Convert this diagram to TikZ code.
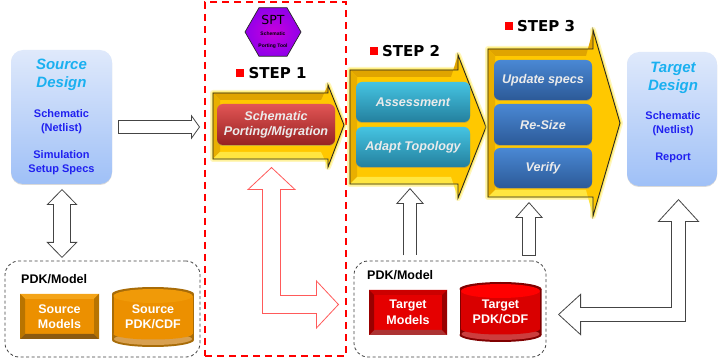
\documentclass[tikz,border=0pt]{standalone}
\usepackage{fontspec}
\setmainfont{Liberation Sans}
\newfontfamily\stepfont{DejaVu Sans}
\usetikzlibrary{arrows.meta,shapes.geometric,shadows}

\definecolor{gold}{HTML}{FFC800}
\definecolor{golddark}{HTML}{E0A400}
\definecolor{goldlight}{HTML}{FFE640}
\definecolor{titleblue}{HTML}{1AB0F0}
\definecolor{bodyblue}{HTML}{2020F0}
\definecolor{softred}{HTML}{FF5A5A}
\definecolor{arrowgrey}{HTML}{444444}
\definecolor{boxtop}{HTML}{DFE9FB}
\definecolor{boxbottom}{HTML}{9FC0F7}
\definecolor{redtop}{HTML}{E25555}
\definecolor{redmid}{HTML}{C93A3A}
\definecolor{redlow}{HTML}{962222}
\definecolor{tealtop}{HTML}{45C4E2}
\definecolor{tealmid}{HTML}{30A6C8}
\definecolor{teallow}{HTML}{24809E}
\definecolor{bluetop}{HTML}{4A88D4}
\definecolor{bluemid}{HTML}{3B76C2}
\definecolor{bluelow}{HTML}{2C5A98}
\definecolor{hexin}{HTML}{C800DC}
\definecolor{hexout}{HTML}{9200EA}
\definecolor{ochre}{HTML}{EC9000}
\definecolor{ochretop}{HTML}{F4A418}
\definecolor{ochrelow}{HTML}{8C5A10}
\definecolor{ochreside}{HTML}{B87400}
\definecolor{ochrerim}{HTML}{A86C08}
\definecolor{ochrepale}{HTML}{D8A050}
\definecolor{ochrecap}{HTML}{F09A08}

\newcommand{\pb}{path picture bounding box}
\newcommand{\titlesize}{\fontsize{15}{15}\selectfont\bfseries\itshape\color{titleblue}}

\newcommand{\steparrow}[8]{
  \path[draw=goldlight,line width=6pt,opacity=.35,line join=round] (#1,#2) -- (#4,#2) -- (#4,#5) -- (#7,#8) -- (#4,#6) -- (#4,#3) -- (#1,#3) -- cycle;
  \path[draw=goldlight,line width=3pt,opacity=.7,line join=round] (#1,#2) -- (#4,#2) -- (#4,#5) -- (#7,#8) -- (#4,#6) -- (#4,#3) -- (#1,#3) -- cycle;
  \fill[gold] (#1,#2) -- (#4,#2) -- (#4,#5) -- (#7,#8) -- (#4,#6) -- (#4,#3) -- (#1,#3) -- cycle;
  \fill[golddark] (#1,#2) -- (#4,#2) -- (#4,#5) -- ([shift={(-7pt,-7pt)}]#4,#2) -- ([shift={(7pt,-7pt)}]#1,#2) -- cycle;
  \fill[golddark!70!gold] (#1,#2) -- ([shift={(7pt,-7pt)}]#1,#2) -- ([shift={(7pt,7pt)}]#1,#3) -- (#1,#3) -- cycle;
  \fill[goldlight] (#1,#3) -- (#4,#3) -- (#4,#6) -- ([shift={(-7pt,7pt)}]#4,#3) -- ([shift={(7pt,7pt)}]#1,#3) -- cycle;
  \draw[black!85,line width=.9pt,line join=miter] (#1,#2) -- (#4,#2) -- (#4,#5) -- (#7,#8) -- (#4,#6) -- (#4,#3) -- (#1,#3) -- cycle;
}

\newcommand{\blockarrow}[5]{
  \draw[#1,line width=#2+1.6pt,>={Triangle[open,fill=white,width=#3,length=#4,line width=.8pt]},->] #5;
  \draw[white,line width=#2,shorten <=.8pt,shorten >=#4-1pt] #5;
}
\newcommand{\blockarrows}[5]{
  \draw[#1,line width=#2+1.6pt,>={Triangle[open,fill=white,width=#3,length=#4,line width=.8pt]},<->] #5;
  \draw[white,line width=#2,shorten <=#4-1pt,shorten >=#4-1pt] #5;
}

\tikzset{
  designbox/.style={rounded corners=12pt,top color=boxtop,bottom color=boxbottom,minimum height=134pt,
    drop shadow={shadow xshift=0pt,shadow yshift=-1pt,opacity=.3}},
  designtext/.style={align=center,inner sep=0pt,text=bodyblue,font=\fontsize{11}{14}\selectfont\bfseries},
  button/.style n args={3}{rounded corners=6pt,inner sep=0pt,align=center,text=white!92!black,
    font=\fontsize{12.6}{15}\selectfont\bfseries\itshape,top color=#1,middle color=#2,bottom color=#3,
    drop shadow={shadow xshift=0pt,shadow yshift=-1pt,opacity=.45}},
  steplabel/.style={inner sep=0pt,font=\fontsize{15}{15}\selectfont\stepfont\bfseries},
  stepmark/.style={fill=red,minimum size=8pt,inner sep=0pt,anchor=east,xshift=-4pt},
  pdkbox/.style={draw=black!75,dashed,dash pattern=on 3pt off 2.5pt,line width=.8pt,rounded corners=14pt},
  pdklabel/.style={anchor=west,inner sep=0pt,font=\fontsize{12.5}{13}\selectfont\bfseries},
  modelbox/.style n args={5}{fill=#1,inner sep=0pt,align=center,text=white,font=\fontsize{12.5}{15.5}\selectfont\bfseries,
    path picture={
      \fill[#2] (\pb.north west) -- (\pb.north east) -- ([shift={(-5pt,-5pt)}]\pb.north east) -- ([shift={(5pt,-5pt)}]\pb.north west) -- cycle;
      \fill[#3] (\pb.south west) -- (\pb.south east) -- ([shift={(-5pt,5pt)}]\pb.south east) -- ([shift={(5pt,5pt)}]\pb.south west) -- cycle;
      \fill[#4] (\pb.north west) -- ([shift={(5pt,-5pt)}]\pb.north west) -- ([shift={(5pt,5pt)}]\pb.south west) -- (\pb.south west) -- cycle;
      \fill[#5] (\pb.north east) -- ([shift={(-5pt,-5pt)}]\pb.north east) -- ([shift={(-5pt,5pt)}]\pb.south east) -- (\pb.south east) -- cycle;
    }},
  dbbox/.style n args={4}{minimum width=82pt,minimum height=60pt,inner sep=0pt,
    align=center,text=white,font=\fontsize{12.5}{15.5}\selectfont\bfseries,
    path picture={
      \fill[#2] ([yshift=7pt]\pb.south) ellipse [x radius=41pt,y radius=7pt];
      \fill[#2] ([yshift=7pt]\pb.south west) rectangle ([yshift=-7pt]\pb.north east);
      \fill[#3] ([yshift=8pt]\pb.south) ellipse [x radius=39pt,y radius=6pt];
      \fill[#1] ([yshift=13pt]\pb.south) ellipse [x radius=39.5pt,y radius=5.5pt];
      \fill[#1] ([shift={(-39.5pt,13pt)}]\pb.south) rectangle ([shift={(39.5pt,-8pt)}]\pb.north);
      \fill[#2] ([yshift=-7pt]\pb.north) ellipse [x radius=41pt,y radius=7pt];
      \fill[#4] ([yshift=-9pt]\pb.north) ellipse [x radius=39.5pt,y radius=7pt];
    }}
}

\begin{document}
\begin{tikzpicture}[x=1pt,y=-1pt]
  \useasboundingbox (0,0) rectangle (718,363);

  \node[designbox,minimum width=101pt] at (61.5,117) (sourcedesign) {};
  \node[designtext] at (61.5,117) (sourcetext) {{\titlesize Source}\\[4pt]{\titlesize Design}\\[16pt]Schematic\\(Netlist)\\[13pt]Simulation\\Setup Specs};
  \node[designbox,minimum width=90pt] at (672,119) (targetdesign) {};
  \node[designtext] at (673,112) (targettext) {{\titlesize Target}\\[4pt]{\titlesize Design}\\[15pt]Schematic\\(Netlist)\\[13pt]Report};

  \node[draw=red,dashed,dash pattern=on 7pt off 5pt,line width=1.4pt,minimum width=141pt,minimum height=354pt,inner sep=0pt] at (275.5,179) (sptbox) {};
  \node[regular polygon,regular polygon sides=6,minimum size=56pt,inner sep=0pt,draw=black!85,line width=.7pt,inner color=hexin,outer color=hexout,align=center] at (273,32) (spt) {{\fontsize{12.5}{11}\selectfont\stepfont SPT}\\[-1pt]{\fontsize{5}{7}\selectfont\bfseries Schematic}\\[-.5pt]{\fontsize{5}{7}\selectfont\bfseries Porting Tool}};

  \node[steplabel] at (277.5,73) (step1) {STEP 1};
  \node[stepmark] at (step1.west) (mark1) {};
  \node[steplabel] at (411,51) (step2) {STEP 2};
  \node[stepmark] at (step2.west) (mark2) {};
  \node[steplabel] at (546,26) (step3) {STEP 3};
  \node[stepmark] at (step3.west) (mark3) {};

  \steparrow{213}{93}{159}{328}{85}{167}{344}{125}
  \steparrow{350}{70}{184}{458}{55}{198}{486}{127}
  \steparrow{488}{49}{197}{593}{30}{216}{620}{123}

  \node[button={redtop}{redmid}{redlow},minimum width=118pt,minimum height=41pt] at (276,124.5) (porting) {Schematic\\Porting/Migration};
  \node[button={tealtop}{tealmid}{teallow},minimum width=114pt,minimum height=40pt] at (413,102) (assessment) {Assessment};
  \node[button={tealtop}{tealmid}{teallow},minimum width=114pt,minimum height=40pt] at (413,147) (adapt) {Adapt Topology};
  \node[button={bluetop}{bluemid}{bluelow},minimum width=98pt,minimum height=40pt] at (543,80) (update) {Update specs};
  \node[button={bluetop}{bluemid}{bluelow},minimum width=98pt,minimum height=41pt] at (543,124.5) (resize) {Re-Size};
  \node[button={bluetop}{bluemid}{bluelow},minimum width=98pt,minimum height=40pt] at (543,168) (verify) {Verify};

  \node[pdkbox,minimum width=195pt,minimum height=96pt] at (102.5,309) (sourcepdk) {};
  \node[pdklabel] at (21,279) (sourcelabel) {PDK/Model};
  \node[modelbox={ochre}{ochretop}{ochrelow}{ochreside}{ochreside},minimum width=79pt,minimum height=45pt] at (59.5,316.5) (sourcemodels) {Source\\Models};
  \node[dbbox={ochre}{ochrerim}{ochrepale}{ochrecap}] at (153,317) (sourcecdf) {Source\\PDK/CDF};

  \node[pdkbox,minimum width=192pt,minimum height=96pt] at (450,309) (targetpdk) {};
  \node[pdklabel] at (367,275) (targetlabel) {PDK/Model};
  \node[modelbox={red!90!black}{red!80!black}{red!60!black!80!white}{red!60!black}{red!60!black},minimum width=78pt,minimum height=45pt] at (408,312.5) (targetmodels) {Target\\Models};
  \node[dbbox={red!85!black}{red!50!black}{red!70!white!80!black}{red}] at (500.5,312) (targetcdf) {Target\\PDK/CDF};

  \coordinate (arrowstart) at (118,127);
  \coordinate (arrowend) at (200,127);
  \coordinate (srcup) at (62,189);
  \coordinate (srcdown) at (62,258);
  \coordinate (redup) at (271.5,167);
  \coordinate (redright) at (339,304.5);
  \coordinate (modelsfoot) at (410,255.5);
  \coordinate (modelstip) at (410,188);
  \coordinate (cdffoot) at (529,256);
  \coordinate (cdftip) at (529,202);
  \coordinate (targettop) at (678.5,199);
  \coordinate (targetleft) at (558,314.5);

  \blockarrow{arrowgrey}{11.5pt}{25pt}{9pt}{(arrowstart) -- (arrowend)}
  \blockarrows{arrowgrey}{16pt}{31pt}{16pt}{(srcup) -- (srcdown)}
  \blockarrows{softred}{17.5pt}{49pt}{23pt}{(redup) |- (redright)}
  \blockarrow{arrowgrey}{12.5pt}{28pt}{16pt}{(modelsfoot) -- (modelstip)}
  \blockarrow{arrowgrey}{12.5pt}{28pt}{16pt}{(cdffoot) -- (cdftip)}
  \blockarrows{arrowgrey}{13.5pt}{42pt}{23pt}{(targettop) |- (targetleft)}
\end{tikzpicture}
\end{document}
